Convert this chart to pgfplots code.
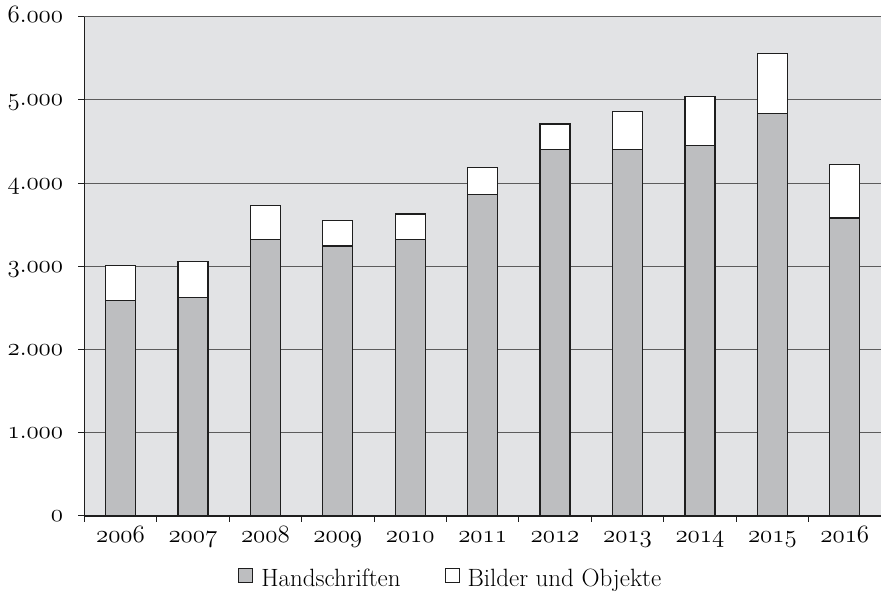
\documentclass[border=0pt]{standalone}
\usepackage{pgfplots}
\pgfplotsset{compat=1.18}

\definecolor{plotbg}{HTML}{E2E3E5}
\definecolor{barfill}{HTML}{BDBEC0}
\definecolor{gridc}{HTML}{5C5C5C}
\definecolor{edgec}{HTML}{1E1E1E}

% old-style figures from the math italic font
\newcommand{\osn}[1]{\ensuremath{\mathnormal{#1}}}

% Bestand nach Jahr
\pgfplotstableread{
x year hand bild
0 2006 2590 420
1 2007 2630 430
2 2008 3320 410
3 2009 3245 305
4 2010 3320 310
5 2011 3860 330
6 2012 4400 310
7 2013 4400 460
8 2014 4450 595
9 2015 4840 715
10 2016 3580 640
}\bestand

\begin{document}
\begin{tikzpicture}
\useasboundingbox (-84.3pt,-80pt) rectangle (796.7pt,516pt);
\begin{axis}[
  at={(0pt,0pt)}, anchor=south west,
  scale only axis, width=796.7pt, height=499.3pt,
  xmin=-0.5, xmax=10.5, ymin=0, ymax=6000,
  axis x line*=bottom, axis y line*=left,
  axis line style={-, draw=edgec, line width=1.1pt},
  axis background/.style={fill=plotbg},
  ybar stacked, bar width=30pt,
  ymajorgrids, grid style={draw=gridc, line width=1.1pt},
  xtick={0,...,10},
  xticklabels={\osn{2006},\osn{2007},\osn{2008},\osn{2009},\osn{2010},\osn{2011},\osn{2012},\osn{2013},\osn{2014},\osn{2015},\osn{2016}},
  major x tick style={draw=none},
  minor xtick={-0.5,0.5,...,9.5},
  ytick={0,1000,...,6000},
  yticklabels={\osn{0},\osn{1.000},\osn{2.000},\osn{3.000},\osn{4.000},\osn{5.000},\osn{6.000}},
  tick align=outside, major tick length=6pt, minor tick length=6pt,
  tick style={draw=edgec, line width=1pt},
  every tick label/.append style={font=\fontsize{24.88}{29}\selectfont, inner sep=0pt},
  yticklabel style={anchor=base east, xshift=-15pt, yshift=-6pt},
  xticklabel style={anchor=base, yshift=-21pt},
  legend style={at={(0.46,-0.125)}, anchor=center, draw=none, fill=none,
    legend columns=2, font=\fontsize{25}{29}\selectfont,
    /tikz/every odd column/.append style={column sep=6pt},
    /tikz/every even column/.append style={column sep=42pt}},
  legend image code/.code={\draw[#1, draw=edgec, line width=0.9pt] (0pt,-4pt) rectangle (14pt,10pt);},
]
\addplot[fill=barfill, draw=edgec, line width=1.25pt] table[x=x, y=hand] {\bestand};
\addplot[fill=white, draw=edgec, line width=1.25pt] table[x=x, y=bild] {\bestand};
\legend{Handschriften, Bilder und Objekte}
\end{axis}
\end{tikzpicture}
\end{document}
